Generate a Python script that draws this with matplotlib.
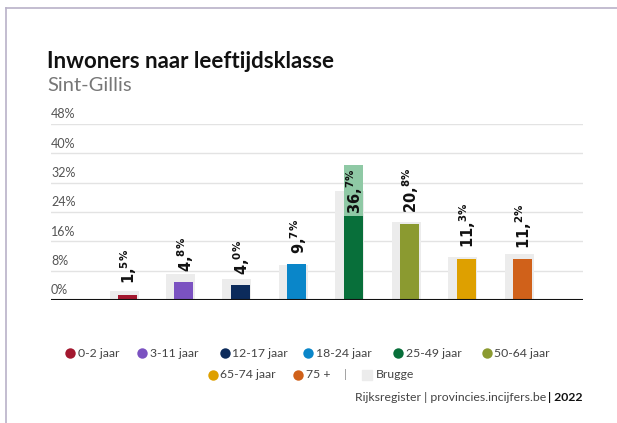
import matplotlib
matplotlib.use("Agg")
import matplotlib.pyplot as plt
from matplotlib.lines import Line2D
from matplotlib.patches import Rectangle

plt.rcParams["mathtext.fontset"] = "dejavusans"

# ---- data ----
categories = ["0-2 jaar", "3-11 jaar", "12-17 jaar", "18-24 jaar",
              "25-49 jaar", "50-64 jaar", "65-74 jaar", "75 +"]
sint_gillis = [1.5, 4.8, 4.0, 9.7, 36.7, 20.8, 11.3, 11.2]
brugge = [2.5, 7.2, 5.7, 9.6, 29.8, 21.2, 11.7, 12.5]
highlight_split = 22.8  # dark part of the 25-49 bar
big_parts = ["1,", "4,", "4,", "9,", "36,", "20,", "11,", "11,"]
small_parts = ["5", "8", "0", "7", "7", "8", "3", "2"]
colors = ["#a3182f", "#7b52c1", "#0c2b5b", "#0a86c9", "#086f3a",
          "#8b9a30", "#dea000", "#d0611a"]
light_green = "#8fc9a5"
grey = "#ececec"
yticks = [0, 8, 16, 24, 32, 40, 48]
ytick_labels = ["0%", "8%", "16%", "24%", "32%", "40%", "48%"]

W, H = 617, 423
fig = plt.figure(figsize=(W / 100, H / 100), dpi=100)
fig.patch.set_facecolor("white")

def fx(x):
    return x / W

def fy(y):
    return 1 - y / H

FONT = "Lato"

# card border
fig.add_artist(Line2D([fx(6), fx(6)], [fy(8), 0], color="#b9b2c8", lw=1.2))
fig.add_artist(Line2D([fx(6), 1], [fy(8), fy(8)], color="#b9b2c8", lw=1.2))

# title
fig.text(fx(47), fy(68), "Inwoners naar leeftijdsklasse", fontsize=16,
         fontweight="bold", family=FONT, color="#111111", va="baseline")
fig.text(fx(47), fy(91), "Sint-Gillis", fontsize=14.5, family=FONT,
         color="#777777", va="baseline")

# axes
ax_left, ax_right, ax_bottom, ax_top = 51, 583, 300, 124
ax = fig.add_axes([fx(ax_left), fy(ax_bottom), fx(ax_right - ax_left),
                   (ax_bottom - ax_top) / H])
step = 56.43
xmin = (ax_left - 127.5) / step
xmax = 7 + (ax_right - (127.5 + 7 * step)) / step
ax.set_xlim(xmin, xmax)
ax.set_ylim(0, 48)
for s in ax.spines.values():
    s.set_visible(False)
ax.set_xticks([])
ax.set_yticks([])
ax.patch.set_alpha(0)

for t, lab in zip(yticks, ytick_labels):
    if t > 0:
        ax.axhline(t, color="#e3e3e3", lw=1.0, zorder=0)
    ax.text(0.0, t + 1.0, lab, transform=ax.get_yaxis_transform(), ha="left",
            va="bottom", fontsize=9, family=FONT, color="#555555")

ax.axhline(0, color="#111111", lw=1.5, zorder=5)

xs = list(range(len(categories)))
bw = 19 / step
gw = 29 / step
goff = -3.5 / step
ax.bar([x + goff for x in xs], brugge, width=gw, color=grey, zorder=1)
ax.bar(xs, sint_gillis, width=bw, color=colors, zorder=2)
# lighter top portion of the 25-49 bar
i_hl = 4
ax.bar([xs[i_hl]], [sint_gillis[i_hl] - highlight_split], bottom=[highlight_split],
       width=bw, color=light_green, zorder=3)

for i, x in enumerate(xs):
    base = highlight_split if i == i_hl else sint_gillis[i]
    off = 2 if i == i_hl else 7.5
    label = big_parts[i] + r"$^{\mathbf{" + small_parts[i] + r"\%}}$"
    ax.annotate(label, (x, base), xytext=(1.0, off),
                textcoords="offset points", rotation=90, ha="center",
                va="bottom", fontsize=10.5, fontweight="bold",
                family="DejaVu Sans", color="#111111", zorder=6)

# legend
def circ(x, y, c):
    fig.add_artist(Line2D([fx(x)], [fy(y)], marker="o", markersize=7.5,
                          color=c, markeredgewidth=0, linestyle="none"))

LFS = 8.8
row1_y, row2_y = 353, 375
row1 = [(70, 0), (142, 1), (225, 2), (308, 3), (398, 4), (487, 5)]
for cx, i in row1:
    circ(cx, row1_y, colors[i])
    fig.text(fx(cx + 7.5), fy(row1_y), categories[i], fontsize=LFS, family=FONT,
             color="#444444", va="center", ha="left")
row2 = [(213, 6), (298, 7)]
for cx, i in row2:
    circ(cx, row2_y, colors[i])
    fig.text(fx(cx + 7.5), fy(row2_y), categories[i], fontsize=LFS, family=FONT,
             color="#444444", va="center", ha="left")
fig.text(fx(345), fy(row2_y), "|", fontsize=LFS, family=FONT, color="#999999",
         va="center", ha="center")
fig.add_artist(Rectangle((fx(362), fy(row2_y + 5)), fx(10), 10 / H,
                         color=grey, transform=fig.transFigure))
fig.text(fx(376), fy(row2_y), "Brugge", fontsize=LFS, family=FONT,
         color="#444444", va="center", ha="left")

# source
SFS = 8.8
t2 = fig.text(fx(583), fy(397), "| 2022", fontsize=SFS, family=FONT,
              fontweight="bold", color="#111111", va="center", ha="right")
fig.canvas.draw()
bb = t2.get_window_extent(fig.canvas.get_renderer())
fig.text((bb.x0 - 2) / W, fy(397), "Rijksregister | provincies.incijfers.be",
         fontsize=SFS, family=FONT, color="#444444", va="center", ha="right")

fig.savefig("out.png", dpi=100, facecolor="white")
